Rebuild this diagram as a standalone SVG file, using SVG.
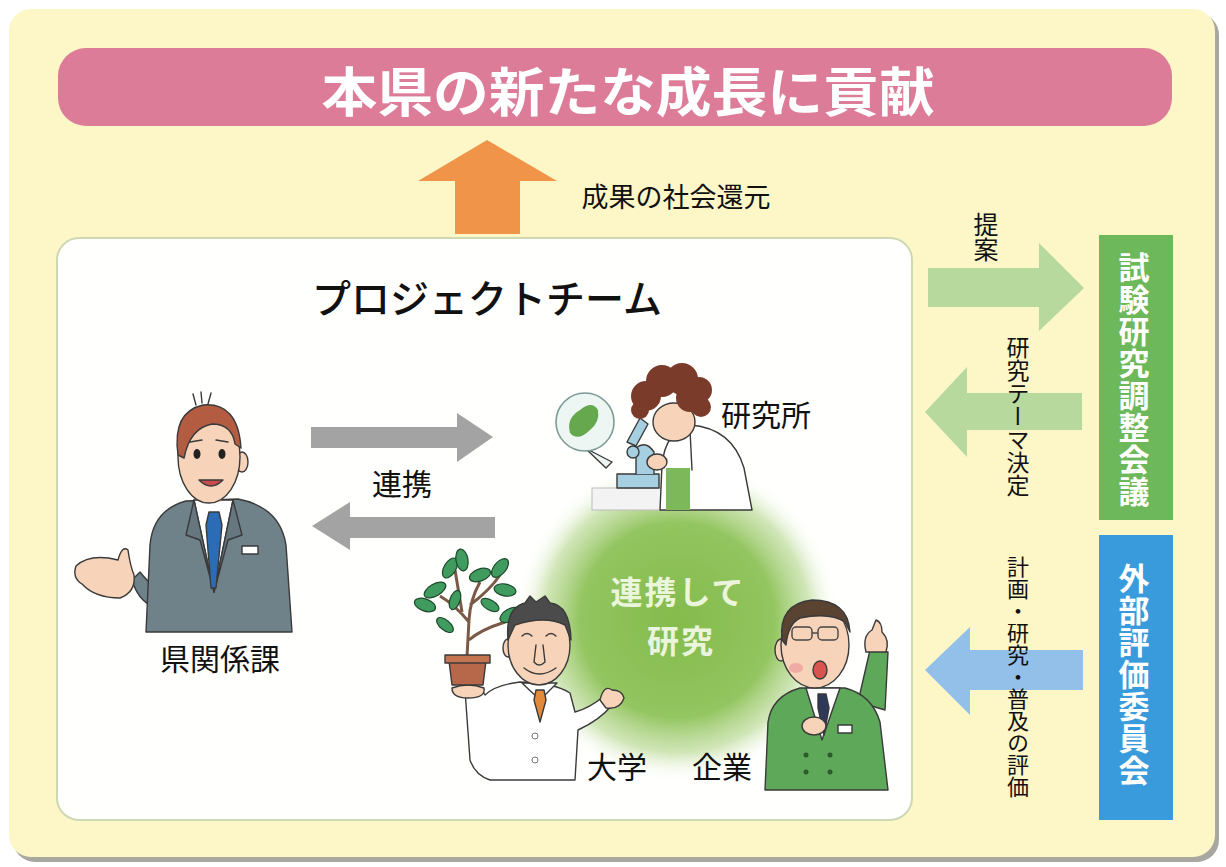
<svg xmlns="http://www.w3.org/2000/svg" width="1226" height="867" viewBox="0 0 1226 867">
  <defs>
    <style>
      .jp { font-family: "Noto Sans CJK JP", "Noto Sans", sans-serif; }
      .lbl { font-size: 30px; fill: #111; dominant-baseline: central; text-anchor: middle; }
      .vt { writing-mode: vertical-rl; text-anchor: start; fill: #111; }
      .vbox { writing-mode: vertical-rl; text-anchor: start; fill: #fff; font-weight: bold; font-size: 31px; letter-spacing: 1px; }
      .glowtxt { font-size: 32px; font-weight: bold; fill: #eaf5dc; text-anchor: middle; dominant-baseline: central; letter-spacing: 2px; }
      .ol { stroke: #3a3a3a; stroke-width: 1.4; stroke-linejoin: round; stroke-linecap: round; }
      .skin { fill: #f7d3b9; }
      .leaf { fill: #3f9c5e; stroke: #1e4a2e; stroke-width: 1.2; }
    </style>
    <radialGradient id="glow" cx="677" cy="620" r="162" gradientUnits="userSpaceOnUse">
      <stop offset="0" stop-color="#84bb4c"/>
      <stop offset="0.6" stop-color="#93c560"/>
      <stop offset="0.82" stop-color="#bddb9a" stop-opacity="0.7"/>
      <stop offset="1" stop-color="#ffffff" stop-opacity="0"/>
    </radialGradient>
  </defs>

  <!-- page background -->
  <rect width="1226" height="867" fill="#ffffff"/>
  <rect x="13" y="13" width="1206" height="849" rx="22" fill="#a8a8a0"/>
  <rect x="9" y="9" width="1206" height="848" rx="22" fill="#fdf6c7"/>

  <!-- headline banner -->
  <g id="goal">
    <rect x="58" y="48" width="1114" height="78" rx="28" fill="#dc7c98"/>
    <text class="jp" x="628" y="89" font-size="53" font-weight="bold" fill="#ffffff" text-anchor="middle" dominant-baseline="central" textLength="613" lengthAdjust="spacingAndGlyphs">本県の新たな成長に貢献</text>
  </g>

  <!-- project team panel -->
  <g id="project-team">
    <rect x="57" y="238" width="855" height="582" rx="22" fill="#fffffd" stroke="#cdd9b4" stroke-width="2"/>
    <text class="jp" x="487" y="296" font-size="39" font-weight="500" fill="#111" text-anchor="middle" dominant-baseline="central">プロジェクトチーム</text>
  </g>

  <!-- collaboration glow -->
  <g id="joint-research">
    <circle cx="677" cy="620" r="164" fill="url(#glow)"/>
    <text class="jp glowtxt" x="678" y="590">連携して</text>
    <text class="jp glowtxt" x="681" y="639">研究</text>
  </g>

  <!-- connectors -->
  <g id="connectors">
    <polygon points="455,234 455,181 418,181 487,140 557,181 520,181 520,234" fill="#f0944a"/>
    <polygon points="928,268 1039,268 1039,243 1084,288 1039,331 1039,307 928,307" fill="#b7d99d"/>
    <polygon points="1082,393 967,393 967,367 925,412 967,457 967,430 1082,430" fill="#b7d99d"/>
    <polygon points="1083,650 970,650 970,627 925,670 970,715 970,690 1083,690" fill="#92c0e8"/>
    <polygon points="311,427 457,427 457,413 493,437 457,462 457,448 311,448" fill="#a3a3a3"/>
    <polygon points="495,517 350,517 350,502 312,526 350,550 350,538 495,538" fill="#a3a3a3"/>
  </g>

  <!-- connector labels -->
  <g id="connector-labels" class="jp">
    <text x="676" y="195" font-size="27" fill="#111" text-anchor="middle" dominant-baseline="central">成果の社会還元</text>
    <text class="vt" x="986" y="212" font-size="25">提案</text>
    <text class="vt" x="1018" y="336" font-size="23">研究テーマ決定</text>
    <text class="vt" x="1018" y="556" font-size="22">計画・研究・普及の評価</text>
    <text class="lbl" x="402" y="482">連携</text>
  </g>

  <!-- coordination council -->
  <g id="council">
    <rect x="1099" y="235" width="74" height="285" fill="#6cb85a"/>
    <text class="jp vbox" x="1134" y="252">試験研究調整会議</text>
  </g>

  <!-- external evaluation committee -->
  <g id="committee">
    <rect x="1099" y="535" width="74" height="285" fill="#3a9bdc"/>
    <text class="jp vbox" x="1134" y="563">外部評価委員会</text>
  </g>

  <!-- prefecture section staff -->
  <g id="prefecture">
    <path class="ol" d="M132,580 Q138,600 152,606 L156,588 Q146,580 140,572 Z" fill="#6f8189"/>
    <path class="ol" d="M146,632 L150,545 Q153,510 186,501 L238,499 Q280,507 286,545 L292,632 Z" fill="#6f8189"/>
    <polygon class="ol" points="194,500 233,500 214,592" fill="#ffffff"/>
    <path class="ol" d="M194,500 L186,535 L200,540 L214,592 Z" fill="#66777f"/>
    <path class="ol" d="M233,500 L242,535 L228,540 L214,592 Z" fill="#66777f"/>
    <polygon class="ol" points="209,512 219,512 222,525 216,588 211,588 206,525" fill="#2b6cb4"/>
    <rect class="ol" x="242" y="546" width="16" height="8" fill="#ffffff" stroke-width="1"/>
    <rect class="skin" x="199" y="488" width="22" height="14"/>
    <ellipse class="ol skin" cx="242" cy="462" rx="6" ry="10"/>
    <ellipse class="ol skin" cx="209" cy="457" rx="31" ry="46"/>
    <path class="ol" d="M178,455 Q172,412 203,405 Q238,402 241,448 L235,444 Q232,424 212,424 Q190,428 184,458 Z" fill="#b35c42"/>
    <path class="ol" d="M196,405 L193,394 M202,403 L201,392 M208,404 L211,393" fill="none"/>
    <ellipse cx="197" cy="454" rx="3.5" ry="5" fill="#222"/>
    <ellipse cx="222" cy="454" rx="3.5" ry="5" fill="#222"/>
    <path class="ol" d="M190,442 L202,440 M216,440 L228,442" fill="none"/>
    <path class="ol" d="M199,480 Q211,492 223,480 Z" fill="#c94c4c"/>
    <path class="ol skin" d="M76,566 Q90,553 118,560 Q122,545 128,550 Q130,565 134,575 Q136,592 120,598 Q95,598 82,584 Q72,578 76,566 Z"/>
    <text class="jp lbl" x="220" y="657">県関係課</text>
  </g>

  <!-- research institute scientist -->
  <g id="institute">
    <path class="ol" d="M585,448 L606,468 L612,462 Z" fill="#eef6f4" stroke="#7c9a96"/>
    <circle cx="585" cy="422" r="29" fill="#eef6f4" stroke="#7c9a96" stroke-width="1.6"/>
    <path d="M570,433 Q566,418 580,410 Q592,400 598,410 Q600,422 590,430 Q578,442 570,433 Z" fill="#66a84e"/>
    <rect x="592" y="488" width="70" height="22" fill="#f3f3f3" stroke="#bbbbbb"/>
    <path class="ol" d="M660,510 L662,465 Q665,432 690,425 Q732,428 744,468 L752,510 Z" fill="#ffffff" stroke="#777"/>
    <rect x="666" y="468" width="24" height="42" fill="#7db95a"/>
    <path class="ol" d="M690,430 L692,470" stroke="#9a9a9a" fill="none"/>
    <rect class="ol" x="617" y="474" width="42" height="14" fill="#a7cfe2" stroke="#557080"/>
    <path class="ol" d="M636,474 L636,448 Q646,440 654,452 L654,474" fill="#a7cfe2" stroke="#557080"/>
    <path class="ol" d="M627,442 L640,418 L648,424 L636,446 Z" fill="#a7cfe2" stroke="#557080"/>
    <circle class="ol" cx="633" cy="452" r="6" fill="#a7cfe2" stroke="#557080"/>
    <ellipse class="ol skin" cx="674" cy="422" rx="21" ry="19"/>
    <ellipse class="ol skin" cx="657" cy="462" rx="10" ry="8"/>
    <g fill="#7b3b2b">
      <circle cx="646" cy="396" r="15"/>
      <circle cx="662" cy="381" r="16"/>
      <circle cx="682" cy="379" r="16"/>
      <circle cx="699" cy="390" r="13"/>
      <circle cx="701" cy="407" r="10"/>
      <circle cx="690" cy="398" r="14"/>
      <circle cx="640" cy="410" r="9"/>
    </g>
    <text class="jp lbl" x="766" y="413">研究所</text>
  </g>

  <!-- university researcher -->
  <g id="university">
    <path d="M467,657 L469,620 Q470,600 480,582 M469,622 Q455,605 440,596 M470,605 Q490,590 500,575 M469,640 Q480,630 505,622 M462,612 L455,570" stroke="#7a5a46" stroke-width="3" fill="none"/>
    <ellipse class="leaf" cx="435" cy="590" rx="12" ry="6" transform="rotate(-30 435 590)"/>
    <ellipse class="leaf" cx="425" cy="605" rx="11" ry="6" transform="rotate(20 425 605)"/>
    <ellipse class="leaf" cx="450" cy="568" rx="11" ry="6" transform="rotate(-60 450 568)"/>
    <ellipse class="leaf" cx="462" cy="560" rx="11" ry="6" transform="rotate(-100 462 560)"/>
    <ellipse class="leaf" cx="480" cy="575" rx="11" ry="6" transform="rotate(-20 480 575)"/>
    <ellipse class="leaf" cx="500" cy="568" rx="11" ry="6" transform="rotate(-50 500 568)"/>
    <ellipse class="leaf" cx="505" cy="590" rx="11" ry="6" transform="rotate(10 505 590)"/>
    <ellipse class="leaf" cx="510" cy="615" rx="11" ry="6" transform="rotate(-30 510 615)"/>
    <ellipse class="leaf" cx="490" cy="605" rx="10" ry="5" transform="rotate(30 490 605)"/>
    <ellipse class="leaf" cx="445" cy="625" rx="10" ry="5" transform="rotate(40 445 625)"/>
    <ellipse class="leaf" cx="455" cy="600" rx="10" ry="5" transform="rotate(-70 455 600)"/>
    <path class="ol" d="M465,690 L470,760 Q475,775 490,780 L575,780 L578,730 Q600,720 612,705 L604,696 Q590,708 575,712 L570,693 Q555,683 520,682 Q495,685 485,695 L482,690 Z" fill="#ffffff" stroke="#555"/>
    <path class="ol skin" d="M452,688 Q468,682 484,688 Q486,698 468,698 Q452,698 452,688 Z"/>
    <path class="ol" d="M449,661 L486,661 L483,685 L452,685 Z" fill="#b8684a"/>
    <rect class="ol" x="445" y="655" width="45" height="8" fill="#c47550"/>
    <path class="ol skin" d="M600,700 Q604,684 612,690 Q622,690 624,698 Q620,710 606,708 Z"/>
    <path class="ol" d="M522,683 L540,700 L557,683 Z" fill="#ffffff"/>
    <polygon class="ol" points="536,690 544,690 546,700 540,722 534,700" fill="#e08a3a"/>
    <circle cx="535" cy="736" r="3" fill="none" stroke="#777"/>
    <circle cx="535" cy="760" r="3" fill="none" stroke="#777"/>
    <ellipse class="ol skin" cx="508" cy="648" rx="5" ry="9"/>
    <ellipse class="ol skin" cx="539" cy="645" rx="31" ry="40"/>
    <path class="ol" d="M508,640 Q505,608 525,603 L530,596 L536,602 L545,596 L550,603 Q570,605 571,640 L565,625 Q545,615 515,625 Z" fill="#4b4b4b"/>
    <path class="ol" d="M522,636 Q527,631 532,636 M546,636 Q551,631 556,636 M536,645 L534,662 Q539,668 545,662 L543,645 M524,668 Q539,680 556,668" fill="none"/>
    <text class="jp lbl" x="617" y="765">大学</text>
  </g>

  <!-- company representative -->
  <g id="company">
    <path class="ol" d="M858,702 L870,650 L888,652 L885,710 Z" fill="#5ea85a" stroke="#2d5a2d"/>
    <path class="ol skin" d="M866,652 Q862,636 872,630 L876,620 Q882,622 882,632 Q890,640 886,652 Z"/>
    <path class="ol" d="M765,790 L768,722 Q772,696 800,688 L845,688 Q872,695 880,722 L888,790 Z" fill="#5ea85a" stroke="#2d5a2d"/>
    <path class="ol" d="M806,688 L822,740 L840,688 Z" fill="#ffffff"/>
    <polygon class="ol" points="818,694 826,694 829,708 824,735 818,708" fill="#2f3a5a"/>
    <rect class="ol" x="838" y="725" width="14" height="8" fill="#ffffff" stroke-width="1"/>
    <circle cx="806" cy="755" r="2.5" fill="#2d5a2d"/>
    <circle cx="830" cy="755" r="2.5" fill="#2d5a2d"/>
    <circle cx="806" cy="772" r="2.5" fill="#2d5a2d"/>
    <circle cx="830" cy="772" r="2.5" fill="#2d5a2d"/>
    <ellipse class="ol skin" cx="814" cy="726" rx="12" ry="9"/>
    <ellipse class="ol skin" cx="781" cy="650" rx="6" ry="11"/>
    <ellipse class="ol skin" cx="815" cy="645" rx="34" ry="43"/>
    <path class="ol" d="M782,640 Q778,604 812,600 Q848,600 850,632 L845,622 Q830,612 800,618 Q788,624 786,645 Z" fill="#5b4332"/>
    <rect x="792" y="627" width="20" height="13" rx="4" fill="none" stroke="#444" stroke-width="1.4"/>
    <rect x="818" y="627" width="20" height="13" rx="4" fill="none" stroke="#444" stroke-width="1.4"/>
    <path d="M812,633 L818,633" stroke="#444" stroke-width="1.4"/>
    <ellipse class="ol" cx="820" cy="670" rx="7" ry="9" fill="#d9534f"/>
    <ellipse cx="796" cy="668" rx="7" ry="5" fill="#ec9b9b" opacity="0.7"/>
    <text class="jp lbl" x="722" y="765">企業</text>
  </g>
</svg>
